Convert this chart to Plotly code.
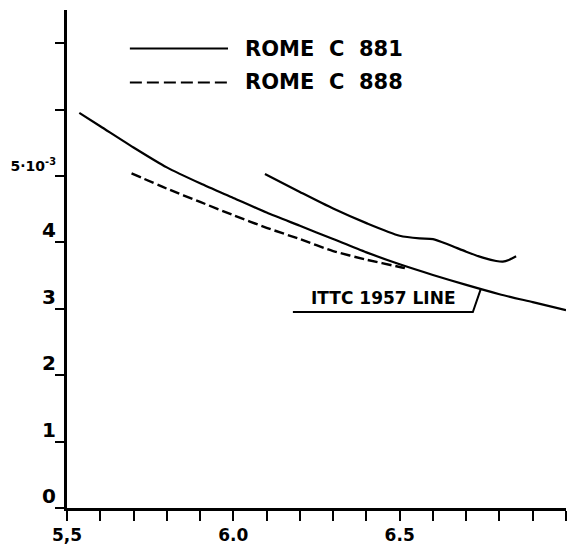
import plotly.graph_objects as go

# ---- data (x = log10 Rn, y = C_F in units of 1e-3) ----
ittc_x = [5.537, 5.6, 5.7, 5.8, 5.9, 6.0, 6.1, 6.2, 6.3, 6.4, 6.5, 6.6, 6.7, 6.8, 6.9, 7.0]
ittc_y = [5.95, 5.75, 5.43, 5.13, 4.89, 4.67, 4.45, 4.25, 4.05, 3.85, 3.67, 3.51, 3.36, 3.22, 3.10, 2.98]

c881_x = [6.095, 6.2, 6.3, 6.4, 6.5, 6.56, 6.6, 6.65, 6.7, 6.75, 6.79, 6.81, 6.83, 6.85]
c881_y = [5.03, 4.76, 4.51, 4.29, 4.10, 4.06, 4.05, 3.96, 3.86, 3.77, 3.72, 3.71, 3.74, 3.79]

c888_x = [5.694, 5.8, 5.9, 6.0, 6.1, 6.2, 6.3, 6.4, 6.5, 6.52]
c888_y = [5.04, 4.81, 4.61, 4.41, 4.22, 4.05, 3.87, 3.74, 3.63, 3.61]

x_tickvals = [5.5, 5.6, 5.7, 5.8, 5.9, 6.0, 6.1, 6.2, 6.3, 6.4, 6.5, 6.6, 6.7, 6.8, 6.9, 7.0]
x_ticktext = ["5,5", " ", " ", " ", " ", "6.0", " ", " ", " ", " ", "6.5", " ", " ", " ", " ", "7.0"]
y_tickvals = [0, 1, 2, 3, 4, 5, 6, 7]
y_ticktext = ["0", "1", "2", "3", "4",
              "<span style='font-size:14px'>5·10<sup>-3</sup></span>", " ", " "]

legend_names = ["ROME  C  881", "ROME  C  888"]
ittc_label = "ITTC 1957 LINE"

FONT = "DejaVu Sans"
BLACK = "black"

fig = go.Figure()
fig.add_trace(go.Scatter(x=ittc_x, y=ittc_y, mode="lines", name="ITTC 1957",
                         line=dict(color=BLACK, width=2.2, shape="spline", smoothing=0.7)))
fig.add_trace(go.Scatter(x=c881_x, y=c881_y, mode="lines", name=legend_names[0],
                         line=dict(color=BLACK, width=2.2, shape="spline", smoothing=0.7)))
fig.add_trace(go.Scatter(x=c888_x, y=c888_y, mode="lines", name=legend_names[1],
                         line=dict(color=BLACK, width=2.4, dash="10px,4px", shape="spline", smoothing=0.7)))

# hand-drawn style legend
leg_x0, leg_x1, leg_tx = 5.689, 5.984, 6.029
leg_y = [6.92, 6.41]
fig.add_shape(type="line", x0=leg_x0, x1=leg_x1, y0=leg_y[0], y1=leg_y[0],
              line=dict(color=BLACK, width=2))
fig.add_shape(type="line", x0=leg_x0, x1=leg_x1, y0=leg_y[1], y1=leg_y[1],
              line=dict(color=BLACK, width=2, dash="12px,5px"))
for name, yy in zip(legend_names, leg_y):
    fig.add_annotation(x=leg_tx, y=yy, text=name, showarrow=False, xanchor="left", yanchor="middle",
                       font=dict(family=FONT, size=21, color=BLACK, weight="bold"))

# ITTC label with underline and leader
fig.add_annotation(x=6.45, y=3.17, text=ittc_label, showarrow=False, xanchor="center", yanchor="middle",
                   font=dict(family=FONT, size=17, color=BLACK, weight="bold"))
fig.add_shape(type="path", path="M 6.179 2.95 L 6.720 2.95 L 6.744 3.30",
              line=dict(color=BLACK, width=2))

fig.update_layout(
    width=570, height=538,
    margin=dict(l=59, r=12, t=2, b=38),
    paper_bgcolor="white", plot_bgcolor="white",
    showlegend=False,
    font=dict(family=FONT, color=BLACK),
)
fig.update_xaxes(range=[5.5, 7.0], tickvals=x_tickvals, ticktext=x_ticktext, automargin=False,
                 showgrid=False, zeroline=False, showline=True, linecolor=BLACK, linewidth=2.5,
                 ticks="outside", ticklen=10, tickwidth=2, tickcolor=BLACK,
                 tickfont=dict(family=FONT, size=17, color=BLACK, weight="bold"))
fig.update_yaxes(range=[0, 7.5], tickvals=y_tickvals, ticktext=y_ticktext, automargin=False,
                 showgrid=False, zeroline=False, showline=True, linecolor=BLACK, linewidth=3,
                 ticks="outside", ticklen=9, tickwidth=2, tickcolor=BLACK,
                 ticklabelshift=-12, ticklabelstandoff=-5,
                 tickfont=dict(family=FONT, size=20, color=BLACK, weight="bold"))

fig.write_html("out.html")
